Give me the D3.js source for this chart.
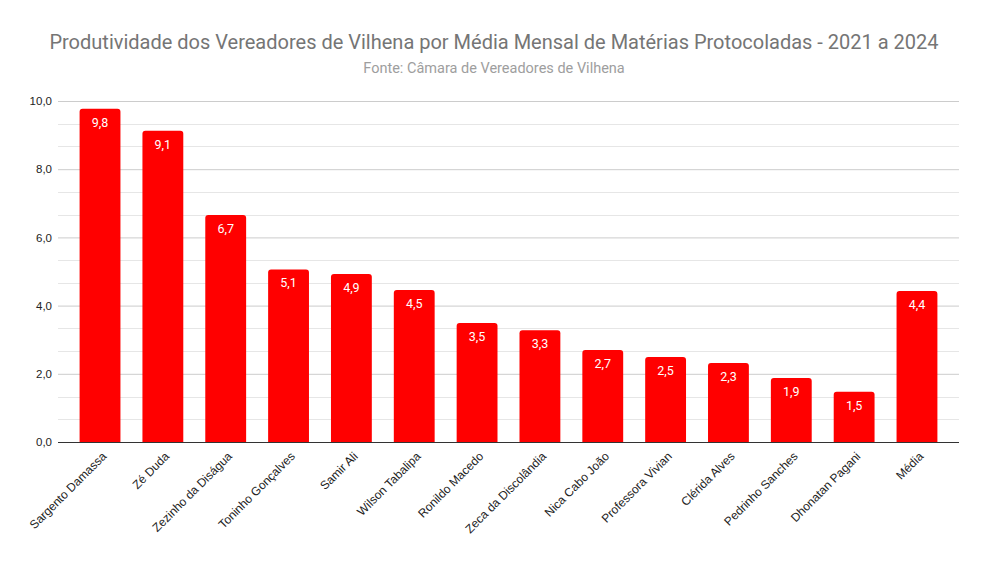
<!DOCTYPE html>
<html>
<head>
<meta charset="utf-8">
<script src="https://cdn.jsdelivr.net/npm/d3@7"></script>
<style>
  body { margin: 0; background: #fff; }
  text { font-family: Roboto, "Liberation Sans", Arial, sans-serif; }
</style>
</head>
<body>
<div id="chart"></div>
<script>
// data
var names = ["Sargento Damassa", "Zé Duda", "Zezinho da Diságua", "Toninho Gonçalves",
  "Samir Ali", "Wilson Tabalipa", "Ronildo Macedo", "Zeca da Discolândia", "Nica Cabo João",
  "Professora Vivian", "Clérida Alves", "Pedrinho Sanches", "Dhonatan Pagani", "Média"];
var values = [9.77, 9.13, 6.66, 5.06, 4.93, 4.46, 3.49, 3.28, 2.70, 2.49, 2.32, 1.88, 1.47, 4.43];
var yTicks = [0, 2, 4, 6, 8, 10];
// minor gridlines: 3 subdivisions between labelled ticks
var yMinor = [2/3, 4/3, 8/3, 10/3, 14/3, 16/3, 20/3, 22/3, 26/3, 28/3];

var W = 987, H = 561;
var svg = d3.select("#chart").append("svg")
  .attr("width", W).attr("height", H);

var ptBR = d3.formatLocale({decimal: ",", thousands: ".", grouping: [3], currency: ["R$", ""]});
var fmt = ptBR.format(".1f");

var x = d3.scaleBand()
  .domain(names)
  .range([68.6, 948.4])
  .paddingInner(0.35)
  .paddingOuter(0.175);

var y = d3.scaleLinear()
  .domain([0, 10])
  .range([442, 101]);

// title
svg.append("text")
  .attr("x", 494).attr("y", 49)
  .attr("text-anchor", "middle")
  .style("font-size", "20px")
  .style("fill", "#757575")
  .text("Produtividade dos Vereadores de Vilhena por Média Mensal de Matérias Protocoladas - 2021 a 2024");

svg.append("text")
  .attr("x", 494).attr("y", 73)
  .attr("text-anchor", "middle")
  .style("font-size", "14.5px")
  .style("fill", "#9e9e9e")
  .text("Fonte: Câmara de Vereadores de Vilhena");

// gridlines
svg.append("g")
  .selectAll("line.minor")
  .data(yMinor)
  .enter().append("line")
  .attr("x1", 58).attr("x2", 959)
  .attr("y1", function (d) { return Math.round(y(d)) + 0.5; })
  .attr("y2", function (d) { return Math.round(y(d)) + 0.5; })
  .attr("stroke", "#e6e6e6");

var yAxis = svg.append("g")
  .attr("transform", "translate(58,0)")
  .call(d3.axisLeft(y).tickValues(yTicks).tickSize(-901).tickFormat(fmt));
yAxis.select(".domain").remove();
yAxis.selectAll(".tick line").attr("stroke", "#cccccc");
yAxis.selectAll(".tick text")
  .attr("x", -6)
  .style("font-family", "'Liberation Sans', Arial, sans-serif")
  .style("font-size", "11.5px")
  .style("fill", "#222");

// bars, rounded top corners
var r = 3;
function barPath(d, i) {
  var x0 = x(names[i]), w = x.bandwidth(), y0 = y(d), yb = y(0);
  return "M" + x0 + "," + yb +
    "V" + (y0 + r) +
    "Q" + x0 + "," + y0 + " " + (x0 + r) + "," + y0 +
    "H" + (x0 + w - r) +
    "Q" + (x0 + w) + "," + y0 + " " + (x0 + w) + "," + (y0 + r) +
    "V" + yb + "Z";
}
svg.append("g")
  .selectAll("path")
  .data(values)
  .enter().append("path")
  .attr("d", barPath)
  .attr("fill", "#ff0000");

// value labels
svg.append("g")
  .selectAll("text")
  .data(values)
  .enter().append("text")
  .attr("x", function (d, i) { return x(names[i]) + x.bandwidth() / 2; })
  .attr("y", function (d) { return y(d) + 18; })
  .attr("text-anchor", "middle")
  .style("font-size", "12.5px")
  .style("fill", "#ffffff")
  .text(function (d) { return fmt(d); });

// baseline
svg.append("line")
  .attr("x1", 58).attr("x2", 959)
  .attr("y1", y(0) + 0.5).attr("y2", y(0) + 0.5)
  .attr("stroke", "#333");

// x labels
var xAxis = svg.append("g")
  .attr("transform", "translate(0," + y(0) + ")")
  .call(d3.axisBottom(x).tickSize(0));
xAxis.select(".domain").remove();
xAxis.selectAll(".tick text")
  .attr("text-anchor", "end")
  .attr("dx", 0).attr("dy", 0)
  .attr("transform", "translate(5,13) rotate(-45)")
  .style("font-family", "'Liberation Sans', Arial, sans-serif")
  .style("font-size", "12px")
  .style("fill", "#222");
</script>
</body>
</html>
